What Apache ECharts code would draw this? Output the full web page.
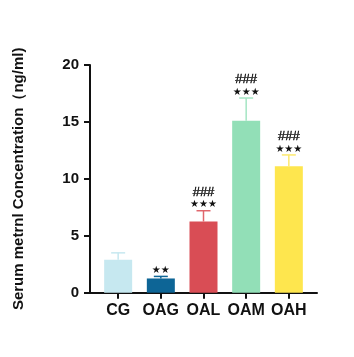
<!DOCTYPE html>
<html>
<head>
<meta charset="utf-8">
<script src="https://cdn.jsdelivr.net/npm/echarts@6/dist/echarts.min.js"></script>
<style>
  html, body { margin: 0; padding: 0; background: #fff; }
  #chart { width: 354px; height: 357px; }
</style>
</head>
<body>
<div id="chart"></div>
<script>
const groups = ['CG', 'OAG', 'OAL', 'OAM', 'OAH']
const means = [2.9, 1.25, 6.25, 15.1, 11.1]
const sds = [0.6, 0.18, 0.95, 2.0, 1.0]
const stars = ['', '★★', '★★★', '★★★', '★★★']
const hashes = ['', '', '###', '###', '###']
const barColors = ['#c6e8f0', '#0d6596', '#d94d55', '#92dfb7', '#fee64e']
const errColors = ['#c6e8f0', '#0d6596', '#e0666c', '#a4e5c3', '#fde96e']

const chart = echarts.init(document.getElementById('chart'))

const barData = means.map((v, i) => ({
  value: [i, v],
  itemStyle: { color: barColors[i] }
}))

const errData = means.map((v, i) => [i, v, v + sds[i], stars[i], hashes[i]])

const option = {
  animation: false,
  grid: { left: 90, right: 37, top: 65, bottom: 64.3, outerBoundsMode: 'none', containLabel: false },
  xAxis: {
    type: 'value',
    min: -0.66,
    max: 4.66,
    splitLine: { show: false },
    axisLine: { show: true, onZero: false, lineStyle: { color: '#111', width: 2 } },
    axisTick: { show: true, customValues: [0, 1, 2, 3, 4], length: 6, lineStyle: { color: '#111', width: 2 } },
    axisLabel: {
      customValues: [0, 1, 2, 3, 4],
      formatter: v => groups[Math.round(v)],
      color: '#111',
      fontFamily: 'Liberation Sans',
      fontWeight: 'bold',
      fontSize: 16,
      margin: 10
    }
  },
  yAxis: {
    type: 'value',
    min: 0,
    max: 20,
    interval: 5,
    name: 'Serum metrnl Concentration（ng/ml)',
    nameLocation: 'middle',
    nameGap: 64,
    nameTextStyle: { color: '#111', fontFamily: 'Liberation Sans', fontWeight: 'bold', fontSize: 15 },
    splitLine: { show: false },
    axisLine: { show: true, onZero: false, lineStyle: { color: '#111', width: 2 } },
    axisTick: { show: true, length: 6, lineStyle: { color: '#111', width: 2 } },
    axisLabel: {
      color: '#111',
      fontFamily: 'Liberation Sans',
      fontWeight: 'bold',
      fontSize: 15,
      margin: 11
    }
  },
  series: [
    {
      type: 'bar',
      data: barData,
      barWidth: 28,
      z: 2
    },
    {
      type: 'custom',
      data: errData,
      z: 3,
      renderItem: function (params, api) {
        const i = api.value(0)
        const base = api.coord([i, api.value(1)])
        const top = api.coord([i, api.value(2)])
        const c = errColors[i]
        const half = 7
        const children = [
          { type: 'line', shape: { x1: base[0], y1: base[1], x2: top[0], y2: top[1] }, style: { stroke: c, lineWidth: 1.5 } },
          { type: 'line', shape: { x1: top[0] - half, y1: top[1], x2: top[0] + half, y2: top[1] }, style: { stroke: c, lineWidth: 1.5 } }
        ]
        const st = api.value(3)
        const hs = api.value(4)
        if (st) {
          children.push({
            type: 'text',
            style: { text: st, x: top[0], y: top[1] - 1, align: 'center', verticalAlign: 'bottom', fill: '#111', font: '10px "DejaVu Sans"' }
          })
        }
        if (hs) {
          children.push({
            type: 'text',
            style: { text: hs, x: top[0], y: top[1] - 12, align: 'center', verticalAlign: 'bottom', fill: '#111', font: '13px "Liberation Sans"', stroke: '#111', lineWidth: 0.4 }
          })
        }
        return { type: 'group', children: children }
      }
    }
  ]
}

chart.setOption(option)
</script>
</body>
</html>
